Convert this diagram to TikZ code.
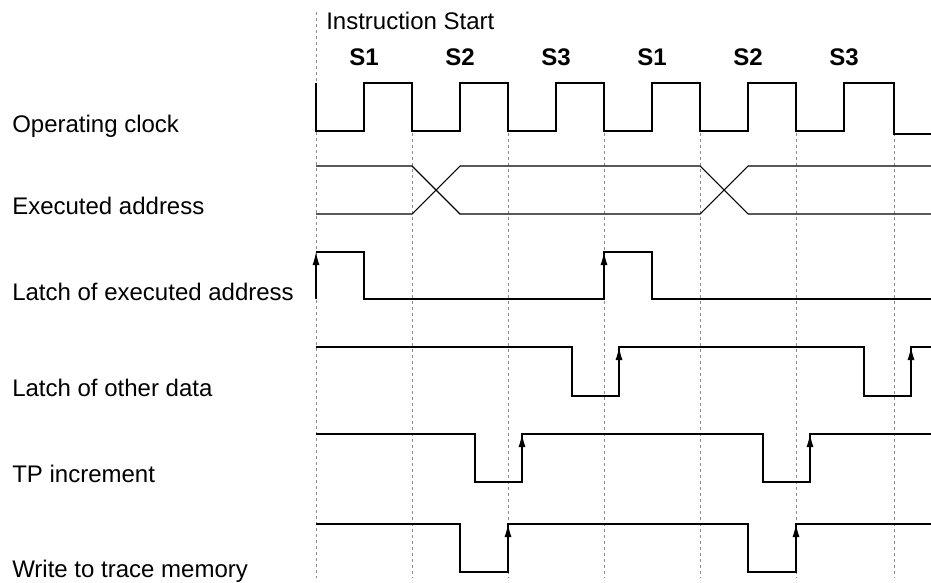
\documentclass[tikz,border=0pt]{standalone}
\usepackage{fontspec}
\setmainfont{Liberation Sans}
\usetikzlibrary{arrows.meta}

\definecolor{wavecolor}{HTML}{000000}
\definecolor{gridcolor}{HTML}{8C8C8C}

\begin{document}
\begin{tikzpicture}[
    x=0.75pt, y=-0.75pt,
    wave/.style={wavecolor, line width=0.8pt},
    edge/.style={wavecolor, line width=0.8pt, -{Latex[length=9.75pt, width=5.25pt]}},
    grid/.style={gridcolor, line width=0.5pt, dash pattern=on 2.25pt off 2.25pt},
    sig/.style={anchor=base west, font=\fontsize{18}{20}\selectfont, inner sep=0pt},
    phase/.style={anchor=base, font=\fontsize{18}{20}\selectfont\bfseries, inner sep=0pt},
]
\useasboundingbox (0,0) rectangle (931,582);

% Cycle boundaries
\draw[grid] (316,12) -- (316,578);
\foreach \x in {412,508,604,700,796,894} {
    \draw[grid] (\x,133) -- (\x,578);
}

% Header
\node[sig] (start) at (326,29) {Instruction Start};
\foreach \x/\s in {364/S1, 460/S2, 556/S3, 652/S1, 748/S2, 844/S3} {
    \node[phase] (s\x) at (\x,65) {\s};
}

% Signal names
\foreach \y/\n/\t in {
    132/clk/Operating clock,
    214/addr/Executed address,
    300/latch/Latch of executed address,
    396/other/Latch of other data,
    482/tp/TP increment,
    577/write/Write to trace memory} {
    \node[sig] (l\n) at (12,\y) {\t};
}

% Operating clock
\draw[wave] (316,83) -- (316,131)
    \foreach \x in {316,412,508,604,700} {
        -- (\x+48,131) -- (\x+48,83) -- (\x+96,83) -- (\x+96,131)
    }
    -- (844,131) -- (844,83) -- (894,83) -- (894,134) -- (931,134);

% Executed address
\draw[wave] (316,166) -- (412,166) -- (460,214) -- (700,214) -- (748,166) -- (931,166);
\draw[wave] (316,214) -- (412,214) -- (460,166) -- (700,166) -- (748,214) -- (931,214);

% Latch of executed address
\draw[wave] (316,252) -- (364,252) -- (364,299) -- (604,299) -- (604,252)
    -- (652,252) -- (652,299) -- (931,299);
\draw[edge] (316,299) -- (316,252);
\draw[edge] (604,299) -- (604,252);

% Other data, TP increment, trace write
\foreach \hi/\lo/\a/\b/\c/\d in {
    347/396/572/619/864/911,
    434/482/475/522/763/810,
    524/572/460/508/748/796} {
    \draw[wave] (316,\hi) -- (\a,\hi) -- (\a,\lo) -- (\b,\lo) -- (\b,\hi)
        -- (\c,\hi) -- (\c,\lo) -- (\d,\lo) -- (\d,\hi) -- (931,\hi);
    \draw[edge] (\b,\lo) -- (\b,\hi);
    \draw[edge] (\d,\lo) -- (\d,\hi);
}

\end{tikzpicture}
\end{document}
